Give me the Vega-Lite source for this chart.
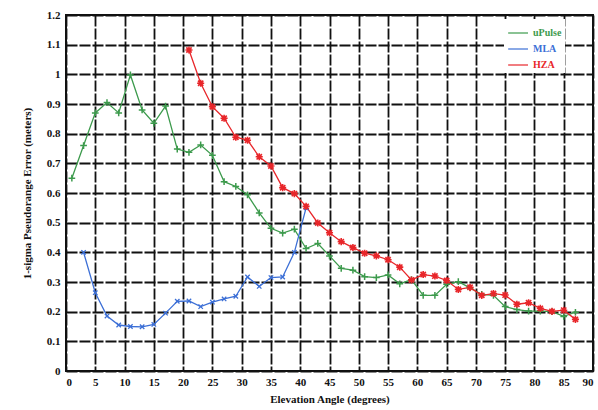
{
  "$schema": "https://vega.github.io/schema/vega-lite/v6.json",
  "width": 527,
  "height": 356,
  "autosize": {"type": "none"},
  "padding": {"left": 66, "top": 15, "right": 5, "bottom": 39},
  "background": "white",
  "config": {
    "view": {"stroke": "#111", "strokeWidth": 2},
    "font": "Liberation Serif",
    "axis": {
      "labelFont": "Liberation Serif", "labelFontWeight": "bold", "labelFontSize": 11, "labelColor": "#111",
      "titleFont": "Liberation Serif", "titleFontWeight": "bold", "titleFontSize": 11, "titleColor": "#111",
      "gridColor": "#111", "gridWidth": 1.8, "gridDash": [11, 2], "gridOpacity": 1,
      "domain": false, "ticks": false
    },
    "legend": {"labelFont": "Liberation Serif", "labelFontSize": 10, "labelFontWeight": "bold"}
  },
  "data": {"values": [
    {"s":"uPulse","e":1,"v":0.65},{"s":"uPulse","e":3,"v":0.76},{"s":"uPulse","e":5,"v":0.87},{"s":"uPulse","e":7,"v":0.905},
    {"s":"uPulse","e":9,"v":0.87},{"s":"uPulse","e":11,"v":0.998},{"s":"uPulse","e":13,"v":0.88},{"s":"uPulse","e":15,"v":0.835},
    {"s":"uPulse","e":17,"v":0.893},{"s":"uPulse","e":19,"v":0.748},{"s":"uPulse","e":21,"v":0.737},{"s":"uPulse","e":23,"v":0.762},
    {"s":"uPulse","e":25,"v":0.727},{"s":"uPulse","e":27,"v":0.638},{"s":"uPulse","e":29,"v":0.622},{"s":"uPulse","e":31,"v":0.594},
    {"s":"uPulse","e":33,"v":0.533},{"s":"uPulse","e":35,"v":0.481},{"s":"uPulse","e":37,"v":0.465},{"s":"uPulse","e":39,"v":0.478},
    {"s":"uPulse","e":41,"v":0.413},{"s":"uPulse","e":43,"v":0.43},{"s":"uPulse","e":45,"v":0.388},{"s":"uPulse","e":47,"v":0.346},
    {"s":"uPulse","e":49,"v":0.34},{"s":"uPulse","e":51,"v":0.318},{"s":"uPulse","e":53,"v":0.315},{"s":"uPulse","e":55,"v":0.324},
    {"s":"uPulse","e":57,"v":0.294},{"s":"uPulse","e":59,"v":0.308},{"s":"uPulse","e":61,"v":0.255},{"s":"uPulse","e":63,"v":0.255},
    {"s":"uPulse","e":65,"v":0.292},{"s":"uPulse","e":67,"v":0.301},{"s":"uPulse","e":69,"v":0.28},{"s":"uPulse","e":71,"v":0.258},
    {"s":"uPulse","e":73,"v":0.255},{"s":"uPulse","e":75,"v":0.217},{"s":"uPulse","e":77,"v":0.207},{"s":"uPulse","e":79,"v":0.202},
    {"s":"uPulse","e":81,"v":0.202},{"s":"uPulse","e":83,"v":0.2},{"s":"uPulse","e":85,"v":0.184},{"s":"uPulse","e":87,"v":0.198},
    {"s":"MLA","e":3,"v":0.4},{"s":"MLA","e":5,"v":0.264},{"s":"MLA","e":7,"v":0.185},{"s":"MLA","e":9,"v":0.155},
    {"s":"MLA","e":11,"v":0.15},{"s":"MLA","e":13,"v":0.149},{"s":"MLA","e":15,"v":0.157},{"s":"MLA","e":17,"v":0.195},
    {"s":"MLA","e":19,"v":0.235},{"s":"MLA","e":21,"v":0.236},{"s":"MLA","e":23,"v":0.217},{"s":"MLA","e":25,"v":0.232},
    {"s":"MLA","e":27,"v":0.243},{"s":"MLA","e":29,"v":0.252},{"s":"MLA","e":31,"v":0.317},{"s":"MLA","e":33,"v":0.285},
    {"s":"MLA","e":35,"v":0.315},{"s":"MLA","e":37,"v":0.317},{"s":"MLA","e":39,"v":0.4},{"s":"MLA","e":41,"v":0.55},
    {"s":"HZA","e":21,"v":1.082},{"s":"HZA","e":23,"v":0.97},{"s":"HZA","e":25,"v":0.891},{"s":"HZA","e":27,"v":0.852},
    {"s":"HZA","e":29,"v":0.788},{"s":"HZA","e":31,"v":0.778},{"s":"HZA","e":33,"v":0.722},{"s":"HZA","e":35,"v":0.691},
    {"s":"HZA","e":37,"v":0.618},{"s":"HZA","e":39,"v":0.598},{"s":"HZA","e":41,"v":0.555},{"s":"HZA","e":43,"v":0.499},
    {"s":"HZA","e":45,"v":0.466},{"s":"HZA","e":47,"v":0.436},{"s":"HZA","e":49,"v":0.416},{"s":"HZA","e":51,"v":0.397},
    {"s":"HZA","e":53,"v":0.388},{"s":"HZA","e":55,"v":0.375},{"s":"HZA","e":57,"v":0.35},{"s":"HZA","e":59,"v":0.307},
    {"s":"HZA","e":61,"v":0.325},{"s":"HZA","e":63,"v":0.32},{"s":"HZA","e":65,"v":0.305},{"s":"HZA","e":67,"v":0.275},
    {"s":"HZA","e":69,"v":0.282},{"s":"HZA","e":71,"v":0.255},{"s":"HZA","e":73,"v":0.261},{"s":"HZA","e":75,"v":0.256},
    {"s":"HZA","e":77,"v":0.225},{"s":"HZA","e":79,"v":0.23},{"s":"HZA","e":81,"v":0.211},{"s":"HZA","e":83,"v":0.201},
    {"s":"HZA","e":85,"v":0.205},{"s":"HZA","e":87,"v":0.174}
  ]},
  "encoding": {
    "x": {"field": "e", "type": "quantitative",
      "scale": {"domain": [0, 90], "nice": false},
      "axis": {"values": [0,5,10,15,20,25,30,35,40,45,50,55,60,65,70,75,80,85,90], "title": "Elevation Angle (degrees)", "labelPadding": 5, "titlePadding": 6}},
    "y": {"field": "v", "type": "quantitative",
      "scale": {"domain": [0, 1.2], "nice": false},
      "axis": {"values": [0,0.1,0.2,0.3,0.4,0.5,0.6,0.7,0.8,0.9,1,1.1,1.2], "format": ".1~f", "title": "1-sigma Pseudorange Error (meters)", "labelPadding": 6, "titlePadding": 14}},
    "color": {"field": "s", "type": "nominal",
      "scale": {"domain": ["uPulse", "MLA", "HZA"], "range": ["#3c9a4c", "#3c6fd6", "#e8262a"]},
      "legend": {"title": null, "orient": "none", "legendX": 438, "legendY": 4, "symbolType": "stroke", "symbolStrokeWidth": 1.5, "symbolSize": 400, "rowPadding": -7, "padding": 3,
        "fillColor": "white",
        "encode": {"labels": {"update": {"fill": {"scale": "color", "field": "value"}}}}}}
  },
  "layer": [
    {"mark": {"type": "line", "strokeWidth": 1.3},
     "encoding": {"strokeWidth": {"field": "s", "type": "nominal", "scale": {"domain": ["uPulse", "MLA", "HZA"], "range": [1.2, 1.2, 2]}, "legend": null}}},
    {"transform": [{"filter": "datum.s === 'uPulse'"}],
     "mark": {"type": "point", "filled": false, "size": 45, "strokeWidth": 1.5, "opacity": 1, "shape": "M-1,0H1M0,-1V1"}},
    {"transform": [{"filter": "datum.s === 'MLA'"}],
     "mark": {"type": "point", "filled": false, "size": 40, "strokeWidth": 1.3, "opacity": 1, "shape": "M-0.7,-0.7L0.7,0.7M-0.7,0.7L0.7,-0.7"}},
    {"transform": [{"filter": "datum.s === 'HZA'"}],
     "mark": {"type": "point", "filled": false, "size": 50, "strokeWidth": 1.6, "opacity": 1, "shape": "M-1,0H1M0,-1V1M-0.75,-0.75L0.75,0.75M-0.75,0.75L0.75,-0.75"}}
  ]
}
